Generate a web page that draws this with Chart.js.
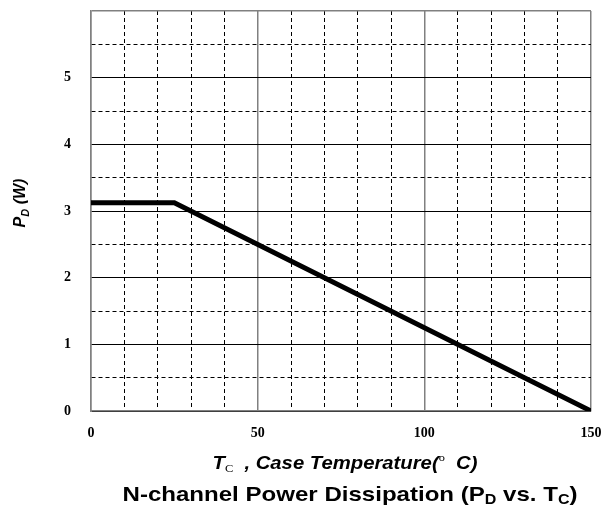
<!DOCTYPE html>
<html>
<head>
<meta charset="utf-8">
<script src="https://cdn.jsdelivr.net/npm/chart.js@4.4.0/dist/chart.umd.min.js"></script>
<style>
  html, body { margin: 0; padding: 0; background: #fff; }
  #wrap { width: 606px; height: 512px; }
</style>
</head>
<body>
<div id="wrap"><canvas id="pdChart"></canvas></div>
<script>
// curve data
const tempC = [0, 25, 150];
const powerW = [3.125, 3.125, 0];
const xTickLabels = [0, 50, 100, 150];
const yTickLabels = [0, 1, 2, 3, 4, 5];

// draw text pieces, parts = [[text, kind], ...], kind: 0 normal, 1 subscript, 2 superscript
// if width is given the whole line is stretched to that width
function drawParts(ctx, parts, x, y, font, smallFont, width) {
    let total = 0;
    parts.forEach(p => { ctx.font = p[1] ? smallFont : font; total += ctx.measureText(p[0]).width; });
    const k = width ? width / total : 1;
    ctx.save();
    ctx.translate(x, y);
    ctx.scale(k, 1);
    let cx = -total / 2;
    parts.forEach(p => {
        ctx.font = p[1] ? smallFont : font;
        const dy = p[1] === 1 ? 5 : (p[1] === 2 ? -6 : 0);
        ctx.fillText(p[0], cx, dy);
        cx += ctx.measureText(p[0]).width;
    });
    ctx.restore();
}

const labelsPlugin = {
    id: 'labels',
    afterDraw(chart) {
        const ctx = chart.ctx;
        ctx.save();
        ctx.fillStyle = '#000';
        ctx.textBaseline = 'middle';
        ctx.textAlign = 'left';
        // x axis title
        drawParts(ctx, [['T', 0], ['C', 1], ['  , Case Temperature(', 0], ['o', 2], ['  C)', 0]],
            345, 464, 'italic bold 18px "Liberation Sans", Arial', '11px "Liberation Serif", serif', 265);
        // chart title
        drawParts(ctx, [['N-channel Power Dissipation (P', 0], ['D', 1], [' vs. T', 0], ['C', 1], [')', 0]],
            350, 495, 'bold 21px "Liberation Sans", Arial', 'bold 14px "Liberation Sans", Arial', 455);
        // y axis title
        ctx.translate(21, 203);
        ctx.rotate(-Math.PI / 2);
        drawParts(ctx, [['P', 0], ['D', 1], [' (W)', 0]],
            0, 0, 'italic bold 16px "Liberation Sans", Arial', 'italic bold 11px "Liberation Sans", Arial');
        ctx.restore();
    }
};

new Chart(document.getElementById('pdChart'), {
    type: 'line',
    data: {
        datasets: [{
            data: tempC.map((t, i) => ({ x: t, y: powerW[i] })),
            borderColor: '#000',
            borderWidth: 5,
            pointRadius: 0,
            tension: 0,
            fill: false
        }]
    },
    options: {
        responsive: true,
        maintainAspectRatio: false,
        animation: false,
        layout: { padding: { top: 11, right: 15, left: 0, bottom: 0 } },
        plugins: { legend: { display: false }, tooltip: { enabled: false } },
        scales: {
            x: {
                type: 'linear',
                min: 0,
                max: 150,
                afterFit: s => { s.height = 101; s.paddingLeft = 0; s.paddingRight = 0; },
                ticks: {
                    stepSize: 10,
                    autoSkip: false,
                    maxRotation: 0,
                    padding: 14,
                    color: '#000',
                    font: { family: '"Liberation Serif", "Times New Roman"', size: 14, weight: 'bold' },
                    callback: v => xTickLabels.includes(v) ? String(v) : ''
                },
                grid: {
                    drawTicks: false,
                    color: c => (c.tick && c.tick.value % 50 === 0) ? '#808080' : '#000',
                    lineWidth: c => (c.tick && c.tick.value % 50 === 0) ? 1.5 : 1
                },
                border: {
                    display: true,
                    color: '#808080',
                    width: 1.5,
                    dash: c => (c.tick && c.tick.value % 50 === 0) ? [] : [4, 3]
                }
            },
            y: {
                type: 'linear',
                min: 0,
                max: 6,
                afterFit: s => { s.width = 91; s.paddingTop = 0; s.paddingBottom = 0; },
                ticks: {
                    stepSize: 0.5,
                    autoSkip: false,
                    padding: 20,
                    color: '#000',
                    font: { family: '"Liberation Serif", "Times New Roman"', size: 14, weight: 'bold' },
                    callback: v => yTickLabels.includes(v) ? String(v) : ''
                },
                grid: {
                    drawTicks: false,
                    color: c => (c.tick && c.tick.value === 6) ? '#808080' : '#000',
                    lineWidth: c => (c.tick && c.tick.value === 6) ? 1.5 : 1
                },
                border: {
                    display: true,
                    color: '#808080',
                    width: 1.5,
                    dash: c => (c.tick && Number.isInteger(c.tick.value)) ? [] : [4, 3]
                }
            }
        }
    },
    plugins: [labelsPlugin]
});
</script>
</body>
</html>
